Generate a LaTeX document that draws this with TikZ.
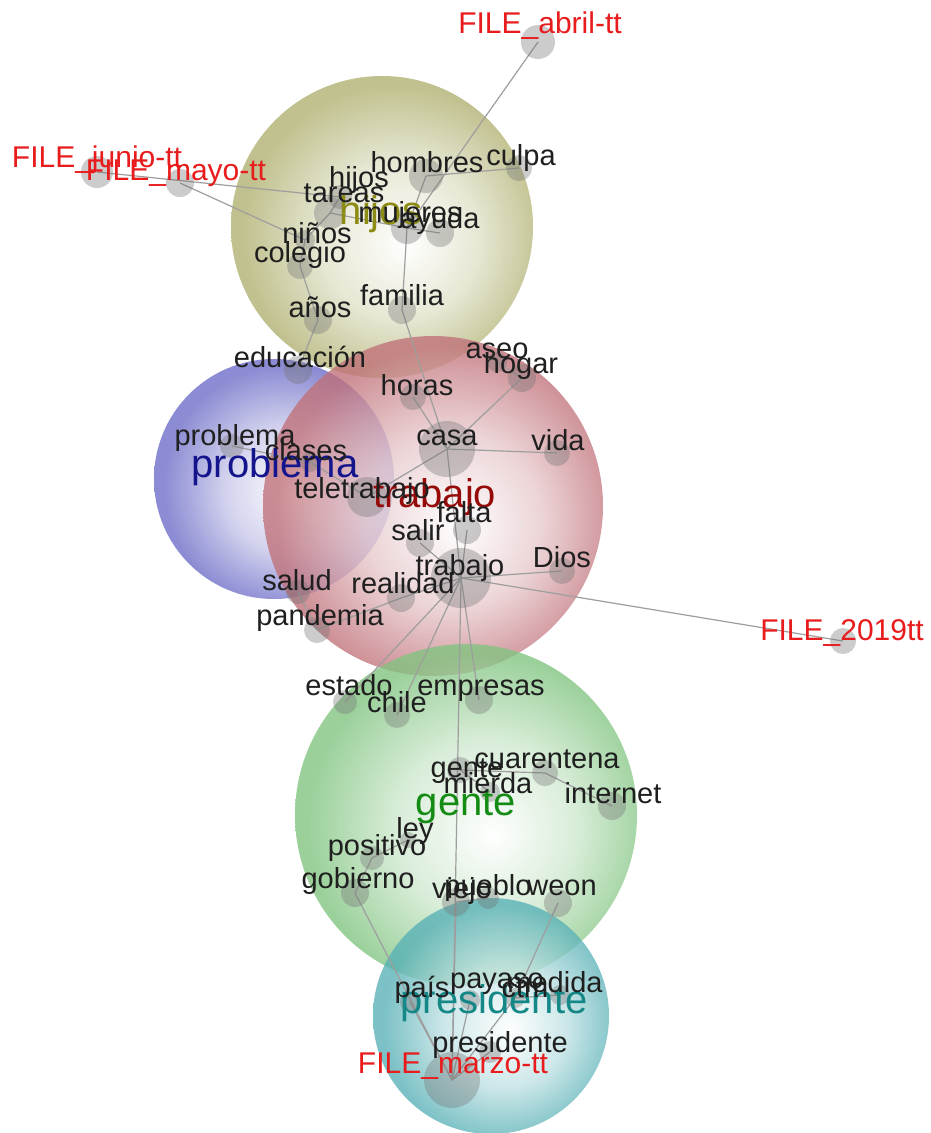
\documentclass[tikz,border=0pt]{standalone}
\usepackage{fontspec}
\setmainfont{Liberation Sans}
\definecolor{olivec}{RGB}{176,176,112}
\definecolor{bluec}{RGB}{108,108,200}
\definecolor{redc}{RGB}{192,112,120}
\definecolor{greenc}{RGB}{128,196,128}
\definecolor{tealc}{RGB}{86,176,182}
\definecolor{filered}{RGB}{232,28,28}
\definecolor{olivetxt}{RGB}{140,140,20}
\definecolor{navytxt}{RGB}{20,20,140}
\definecolor{redtxt}{RGB}{150,10,10}
\definecolor{greentxt}{RGB}{20,140,20}
\definecolor{tealtxt}{RGB}{20,135,135}
\pgfdeclareradialshading{oliveball}{\pgfpoint{4bp}{-3bp}}{color(0bp)=(white); color(13bp)=(olivec!38!white); color(25bp)=(olivec); color(50bp)=(olivec)}
\pgfdeclareradialshading{blueball}{\pgfpoint{4bp}{-3bp}}{color(0bp)=(white); color(13bp)=(bluec!38!white); color(25bp)=(bluec); color(50bp)=(bluec)}
\pgfdeclareradialshading{redball}{\pgfpoint{4bp}{-3bp}}{color(0bp)=(white); color(13bp)=(redc!38!white); color(25bp)=(redc); color(50bp)=(redc)}
\pgfdeclareradialshading{greenball}{\pgfpoint{4bp}{-3bp}}{color(0bp)=(white); color(13bp)=(greenc!38!white); color(25bp)=(greenc); color(50bp)=(greenc)}
\pgfdeclareradialshading{tealball}{\pgfpoint{4bp}{-3bp}}{color(0bp)=(white); color(13bp)=(tealc!38!white); color(25bp)=(tealc); color(50bp)=(tealc)}
\pgfdeclarelayer{bg}
\pgfdeclarelayer{edges}
\pgfdeclarelayer{labels}
\pgfsetlayers{bg,edges,main,labels}
\tikzset{
  dotn/.style={circle, fill=black!55, fill opacity=0.36, draw=none, inner sep=0pt, minimum size=#1},
  wlab/.style={anchor=base, inner sep=0pt, text=black!88, font=\fontsize{29}{30}\selectfont},
  flab/.style={anchor=base, inner sep=0pt, text=filered, font=\fontsize{30}{31}\selectfont},
  blab/.style={anchor=base, inner sep=0pt, font=\fontsize{40}{42}\selectfont},
  edge/.style={draw=black!38, line width=1.2pt},
  cluster/.style={opacity=0.78}
}
\newcommand\wordnode[7]{%
  \node[dotn=#4pt] (#1) at (#2,#3) {};
  \begin{pgfonlayer}{labels}\node[wlab] (#1-t) at (#5,#6) {#7};\end{pgfonlayer}}
\newcommand\filenode[7]{%
  \node[dotn=#4pt] (#1) at (#2,#3) {};
  \begin{pgfonlayer}{labels}\node[flab] (#1-t) at (#5,#6) {#7};\end{pgfonlayer}}
\begin{document}
\begin{tikzpicture}[x=1pt,y=-1pt]
\useasboundingbox (0,0) rectangle (930,1133);
% clusters
\begin{pgfonlayer}{bg}
\fill[white] (0,0) rectangle (930,1133);
\shade[shading=blueball, cluster] (274,479) circle (120pt);
\shade[shading=oliveball, cluster] (382,227) circle (151pt);
\shade[shading=redball, cluster] (433,506) circle (170pt);
\shade[shading=greenball, cluster] (466,815) circle (171pt);
\shade[shading=tealball, cluster] (491,1016) circle (118pt);
\end{pgfonlayer}
% big cluster labels
\begin{pgfonlayer}{labels}
\node[blab, text=olivetxt] (c-hijos) at (381,224) {hijos};
\node[blab, text=navytxt] (c-problema) at (275,477) {problema};
\node[blab, text=redtxt] (c-trabajo) at (435,507) {trabajo};
\node[blab, text=greentxt] (c-gente) at (466,815) {gente};
\node[blab, text=tealtxt] (c-presidente) at (494,1013) {presidente};
\end{pgfonlayer}
% file nodes
\filenode{abril}{538}{42}{34}{540}{33}{FILE\_abril-tt}
\filenode{junio}{97}{172}{32}{97}{167}{FILE\_junio-tt}
\filenode{mayo}{180}{183}{28}{176}{180}{FILE\_mayo-tt}
\filenode{y2019}{843}{641}{26}{842}{640}{FILE\_2019tt}
\filenode{marzo}{452}{1080}{56}{453}{1073}{FILE\_marzo-tt}
% words
\wordnode{hombres}{426}{176}{34}{427}{172}{hombres}
\wordnode{culpa}{519}{168}{26}{521}{165}{culpa}
\wordnode{hijos}{340}{197}{24}{359}{187}{hijos}
\wordnode{tareas}{330}{213}{32}{344}{202}{tareas}
\wordnode{mujeres}{407}{228}{32}{410}{222}{mujeres}
\wordnode{ayuda}{440}{233}{28}{440}{228}{ayuda}
\wordnode{ninos}{305}{240}{20}{317}{243}{niños}
\wordnode{colegio}{300}{266}{26}{300}{262}{colegio}
\wordnode{familia}{402}{310}{28}{402}{305}{familia}
\wordnode{anos}{318}{320}{28}{320}{317}{años}
\wordnode{educacion}{298}{370}{28}{300}{367}{educación}
\wordnode{aseo}{497}{362}{20}{497}{358}{aseo}
\wordnode{hogar}{522}{378}{28}{521}{373}{hogar}
\wordnode{horas}{413}{397}{26}{417}{395}{horas}
\wordnode{casa}{447}{449}{56}{447}{445}{casa}
\wordnode{vida}{557}{453}{26}{558}{450}{vida}
\wordnode{problemaw}{232}{446}{24}{235}{445}{problema}
\wordnode{clases}{310}{462}{20}{306}{460}{clases}
\wordnode{teletrabajo}{367}{497}{40}{362}{498}{teletrabajo}
\wordnode{falta}{467}{530}{28}{464}{522}{falta}
\wordnode{salir}{420}{543}{28}{418}{540}{salir}
\wordnode{trabajow}{461}{578}{60}{460}{575}{trabajo}
\wordnode{dios}{562}{571}{26}{562}{567}{Dios}
\wordnode{salud}{298}{592}{24}{297}{590}{salud}
\wordnode{realidad}{401}{598}{28}{403}{593}{realidad}
\wordnode{pandemia}{317}{630}{26}{320}{625}{pandemia}
\wordnode{estado}{345}{702}{24}{349}{695}{estado}
\wordnode{chile}{397}{715}{26}{397}{712}{chile}
\wordnode{empresas}{479}{700}{28}{481}{695}{empresas}
\wordnode{gentew}{460}{770}{26}{467}{777}{gente}
\wordnode{cuarentena}{545}{773}{26}{547}{768}{cuarentena}
\wordnode{mierda}{490}{792}{20}{488}{793}{mierda}
\wordnode{internet}{612}{806}{28}{613}{803}{internet}
\wordnode{ley}{408}{840}{16}{415}{838}{ley}
\wordnode{positivo}{372}{858}{24}{377}{855}{positivo}
\wordnode{gobierno}{355}{893}{28}{358}{888}{gobierno}
\wordnode{viejo}{456}{902}{28}{462}{898}{viejo}
\wordnode{pueblo}{488}{898}{22}{488}{895}{pueblo}
\wordnode{weon}{558}{903}{28}{562}{895}{weon}
\wordnode{pais}{410}{1002}{20}{422}{997}{país}
\wordnode{payaso}{470}{1000}{20}{497}{988}{payaso}
\wordnode{ctm}{515}{998}{20}{525}{997}{ctm}
\wordnode{medida}{560}{995}{20}{555}{992}{medida}
\wordnode{presidentew}{490}{1052}{22}{500}{1052}{presidente}
% edges
\begin{pgfonlayer}{edges}
\foreach \a/\b in {abril/mujeres, culpa/hombres, hombres/mujeres, mujeres/ayuda,
  mujeres/familia, hijos/tareas, junio/hijos, mayo/ninos, tareas/ninos,
  tareas/mujeres, ninos/colegio, colegio/anos, anos/educacion, familia/casa,
  casa/horas, casa/hogar, hogar/aseo, casa/vida, casa/teletrabajo,
  teletrabajo/clases, clases/problemaw, casa/trabajow, trabajow/falta,
  trabajow/salir, trabajow/dios, trabajow/y2019, trabajow/realidad,
  realidad/pandemia, pandemia/salud, trabajow/estado, trabajow/chile,
  trabajow/empresas, trabajow/marzo, gentew/cuarentena, cuarentena/internet,
  gentew/mierda, marzo/gobierno, gobierno/positivo, positivo/ley,
  marzo/viejo, viejo/pueblo, marzo/pais, marzo/payaso, marzo/presidentew,
  marzo/ctm, ctm/weon, ctm/medida}
  {\draw[edge] (\a.center) -- (\b.center);}
\end{pgfonlayer}
\end{tikzpicture}
\end{document}
